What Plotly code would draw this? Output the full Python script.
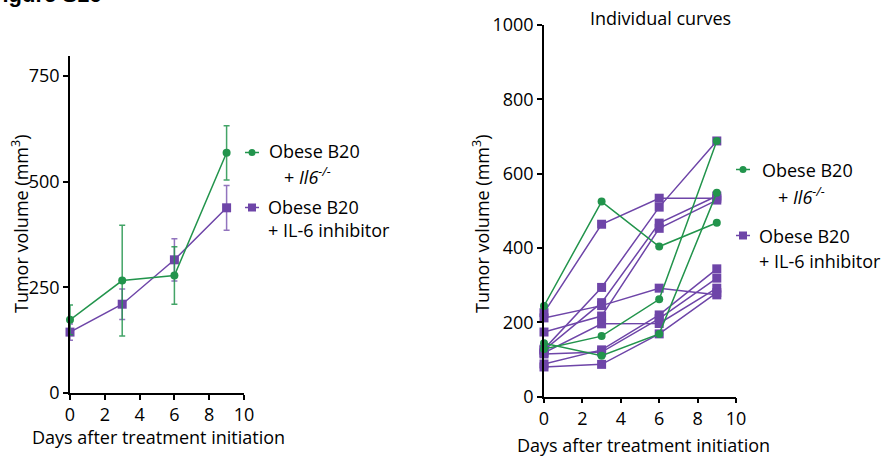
import plotly.graph_objects as go

W, H = 886, 456

# ---------------- data ----------------
days = [0, 3, 6, 9]

# Left panel: mean +/- SEM
mean_il6ko = [173, 266, 278, 568]
sem_il6ko = [35, 131, 68, 64]
mean_inhib = [144, 210, 315, 438]
sem_inhib = [19, 36, 50, 53]

# Right panel: individual curves
ind_il6ko = [
    [244, 525, 404, 468],
    [128, 163, 262, 688],
    [144, 110, 169, 549],
]
ind_inhib = [
    [226, 464, 534, 534],
    [212, 245, 292, 274],
    [174, 217, 453, 529],
    [128, 294, 510, 688],
    [125, 253, 467, 540],
    [118, 196, 197, 292],
    [115, 120, 210, 319],
    [88, 126, 220, 344],
    [80, 87, 169, 280],
]

x_ticks = [0, 2, 4, 6, 8, 10]
y_ticks_left = [0, 250, 500, 750]
y_ticks_right = [0, 200, 400, 600, 800, 1000]

GREEN = "#22944c"
PURPLE = "#6e45a8"
FONT = "Open Sans"


def px(x):
    return x / W


def py(y):
    return 1 - y / H


fig = go.Figure()

# left panel traces
fig.add_trace(go.Scatter(
    x=days, y=mean_inhib, mode="lines+markers", xaxis="x", yaxis="y",
    line=dict(color=PURPLE, width=1.5),
    marker=dict(symbol="square", size=9, color=PURPLE),
    error_y=dict(type="data", array=sem_inhib, color="rgba(110,69,168,0.75)", thickness=1.5, width=3),
    cliponaxis=False, showlegend=False))
fig.add_trace(go.Scatter(
    x=days, y=mean_il6ko, mode="lines+markers", xaxis="x", yaxis="y",
    line=dict(color=GREEN, width=1.5),
    marker=dict(symbol="circle", size=8, color=GREEN),
    error_y=dict(type="data", array=sem_il6ko, color="rgba(34,148,76,0.85)", thickness=1.5, width=3),
    cliponaxis=False, showlegend=False))

# right panel traces
for s in ind_inhib:
    fig.add_trace(go.Scatter(
        x=days, y=s, mode="lines+markers", xaxis="x2", yaxis="y2",
        line=dict(color=PURPLE, width=1.5),
        marker=dict(symbol="square", size=9, color=PURPLE),
        cliponaxis=False, showlegend=False))
for s in ind_il6ko:
    fig.add_trace(go.Scatter(
        x=days, y=s, mode="lines+markers", xaxis="x2", yaxis="y2",
        line=dict(color=GREEN, width=1.5),
        marker=dict(symbol="circle", size=8, color=GREEN),
        cliponaxis=False, showlegend=False))

axis_common = dict(showline=True, linecolor="black", linewidth=1.5, ticks="outside",
                   ticklen=5, tickwidth=1.5, tickcolor="black", showgrid=False,
                   zeroline=False, automargin=False,
                   tickfont=dict(family=FONT, size=18, color="black"))

fig.update_layout(
    width=W, height=H,
    margin=dict(l=0, r=0, t=0, b=0, autoexpand=False),
    paper_bgcolor="white", plot_bgcolor="white",
    font=dict(family=FONT, size=18, color="black"),
    xaxis=dict(domain=[px(70), px(244)], range=[0, 10], tickvals=x_ticks,
               anchor="y", **axis_common),
    yaxis=dict(domain=[py(393), py(56)], range=[0, 797], tickvals=y_ticks_left,
               anchor="x", **axis_common),
    xaxis2=dict(domain=[px(544), px(736)], range=[0, 10], tickvals=x_ticks,
                anchor="y2", **axis_common),
    yaxis2=dict(domain=[py(396.7), py(25)], range=[0, 1000], tickvals=y_ticks_right,
                anchor="x2", **axis_common),
)

ann = []


def text(x, y, t, size=18, anchor="left", angle=0, **kw):
    ann.append(dict(x=px(x), y=py(y), xref="paper", yref="paper", text=t,
                    showarrow=False, xanchor=anchor, yanchor="middle",
                    textangle=angle, font=dict(family=FONT, size=size, color="black"), **kw))


# axis titles
text(158, 437, "Days after treatment initiation", anchor="center")
text(643, 445, "Days after treatment initiation", anchor="center")
text(20, 224, "Tumor volume (mm<sup>3</sup>)", anchor="center", angle=-90)
text(481, 224, "Tumor volume (mm<sup>3</sup>)", anchor="center", angle=-90)
text(660, 18, "Individual curves", anchor="center")

# legends (text)
text(267, 151, "Obese B20")
text(282, 176, "+ <i>Il6</i><sup><i>-/-</i></sup>")
text(266, 207, "Obese B20")
text(266, 230, "+ IL-6 inhibitor")
text(760, 170, "Obese B20")
text(776, 196, "+ <i>Il6</i><sup><i>-/-</i></sup>")
text(757, 236, "Obese B20")
text(757, 261, "+ IL-6 inhibitor")

# partially visible figure label at top-left
ann.append(dict(x=px(-13), y=py(-6), xref="paper", yref="paper", text="<b>Figure S16</b>",
                showarrow=False, xanchor="left", yanchor="middle",
                font=dict(family="Liberation Sans", size=22, color="black")))

fig.update_layout(annotations=ann)

# legend symbols
shapes = []


def legend_symbol(x0, x1, y, color, kind):
    shapes.append(dict(type="line", xref="paper", yref="paper", x0=px(x0), x1=px(x1),
                       y0=py(y), y1=py(y), line=dict(color=color, width=1.5)))
    cx = (x0 + x1) / 2
    if kind == "circle":
        shapes.append(dict(type="circle", xref="paper", yref="paper", x0=px(cx - 3.5), x1=px(cx + 3.5),
                           y0=py(y + 3.5), y1=py(y - 3.5), fillcolor=color, line=dict(width=0)))
    else:
        shapes.append(dict(type="rect", xref="paper", yref="paper", x0=px(cx - 4), x1=px(cx + 4),
                           y0=py(y + 4), y1=py(y - 4), fillcolor=color, line=dict(width=0)))


legend_symbol(245, 259, 152.5, GREEN, "circle")
legend_symbol(245, 259, 207.5, PURPLE, "square")
legend_symbol(736, 750, 169.5, GREEN, "circle")
legend_symbol(736, 750, 235.5, PURPLE, "square")
fig.update_layout(shapes=shapes)

fig.write_html("out.html")
